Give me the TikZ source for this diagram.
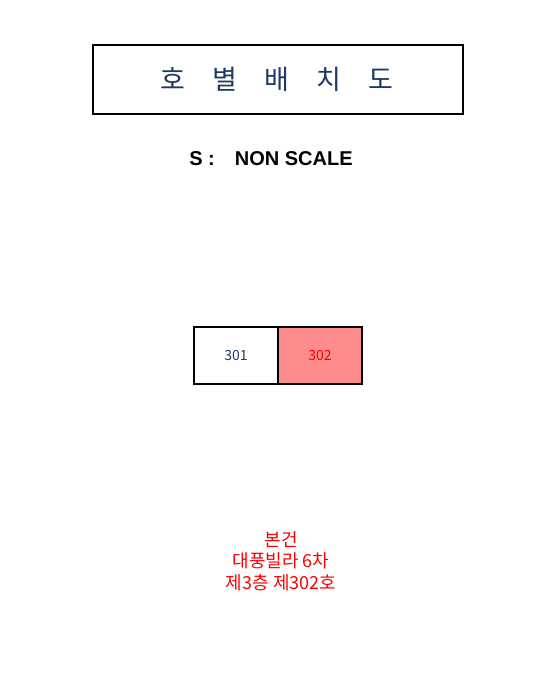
\documentclass[tikz,border=0pt]{standalone}
\usepackage{fontspec}
\setmainfont{Liberation Sans}
\newfontfamily\kr{Noto Sans CJK KR}
\usetikzlibrary{positioning}
\definecolor{titleblue}{RGB}{31,56,100}
\definecolor{unitred}{RGB}{255,140,140}
\tikzset{
	unit/.style={draw=black, line width=1.6pt, minimum width=84pt, minimum height=57pt, inner sep=0pt, outer sep=0pt, font=\kr\fontsize{14}{14}\selectfont}, % one unit of the floor
	titletext/.style={text=titleblue, font=\kr\fontsize{27}{27}\selectfont},
}

\begin{document}
\begin{tikzpicture}[x=1pt,y=-1pt]
			% page size, pixels of the reference
			\useasboundingbox (0,0) rectangle (540,700);
			
			% title frame
			\node[draw, line width=1.4pt, minimum width=370pt, minimum height=69pt] (titlebox) at (278,79.5) {};
			\foreach \ch [count=\i] in {호,별,배,치,도}
				\node[titletext] (t\i) at (121+52*\i,79) {\ch};
			
			% scale note
			\node[font=\bfseries\fontsize{20}{20}\selectfont] (scale) at (271,159) {S :\hspace{20pt}NON SCALE};
			
			% units
			\node[unit, text=titleblue] (u301) at (236,355.5) {301};
			\node[unit, fill=unitred, text=red, right=0pt of u301] (u302) {302};
			
			% note below
			\node[text=red, align=center, font=\kr\fontsize{18}{21.5}\selectfont] (note) at (281,561) {본건\\대풍빌라 6차\\제3층 제302호};
			
\end{tikzpicture}
\end{document}
